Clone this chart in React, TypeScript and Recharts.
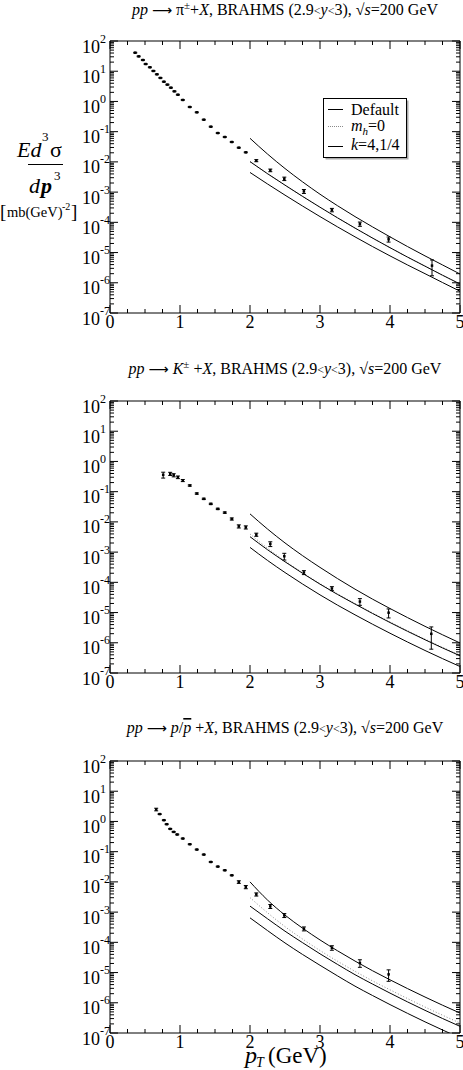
import React from "react";
import {
  ComposedChart,
  Scatter,
  Line,
  XAxis,
  YAxis,
  ErrorBar,
  ReferenceArea,
} from "recharts";

// ---- data (pT in GeV, E d3sigma/dp3 in mb GeV^-2) ----
const PI_PT = [0.36, 0.41, 0.47, 0.51, 0.57, 0.62, 0.67, 0.72, 0.77, 0.82, 0.87, 0.92, 0.97, 1.04, 1.14, 1.24, 1.34, 1.44, 1.54, 1.64, 1.74, 1.84, 1.94, 2.09, 2.29, 2.49, 2.77, 3.17, 3.57, 3.98, 4.6];
const PI_VAL = [41, 31, 23.5, 17.3, 13.5, 10.2, 7.9, 6.0, 4.5, 3.6, 2.85, 2.16, 1.67, 1.12, 0.655, 0.437, 0.249, 0.146, 0.09, 0.0666, 0.0455, 0.0295, 0.0207, 0.011, 5.26e-3, 2.77e-3, 1.06e-3, 2.56e-4, 8.8e-5, 2.74e-5, 3.7e-6];
// relative errors
const PI_ERR = [0.03, 0.03, 0.03, 0.03, 0.03, 0.03, 0.03, 0.03, 0.03, 0.03, 0.03, 0.03, 0.03, 0.03, 0.03, 0.03, 0.03, 0.03, 0.03, 0.03, 0.03, 0.03, 0.03, 0.08, 0.1, 0.13, 0.15, 0.13, 0.16, 0.19, 0.54];

const K_PT = [0.76, 0.86, 0.91, 0.97, 1.04, 1.14, 1.24, 1.34, 1.44, 1.54, 1.64, 1.74, 1.84, 1.94, 2.09, 2.29, 2.49, 2.77, 3.17, 3.57, 3.98, 4.59];
const K_VAL = [0.361, 0.39, 0.351, 0.3, 0.234, 0.16, 0.0867, 0.0578, 0.0394, 0.0269, 0.0203, 0.0125, 7.13e-3, 6.6e-3, 3.78e-3, 1.86e-3, 7.3e-4, 2.12e-4, 6.25e-5, 2.31e-5, 9.9e-6, 1.98e-6];
const K_ERR = [0.22, 0.12, 0.12, 0.1, 0.08, 0.05, 0.05, 0.05, 0.05, 0.05, 0.05, 0.08, 0.12, 0.12, 0.12, 0.18, 0.25, 0.15, 0.15, 0.25, 0.33, 0.69];

const P_PT = [0.66, 0.71, 0.77, 0.81, 0.86, 0.91, 0.96, 1.04, 1.14, 1.24, 1.34, 1.44, 1.54, 1.64, 1.74, 1.84, 1.94, 2.09, 2.29, 2.49, 2.77, 3.17, 3.57, 3.98];
const P_VAL = [2.49, 1.75, 1.1, 0.81, 0.567, 0.451, 0.37, 0.272, 0.176, 0.1175, 0.0802, 0.0456, 0.0321, 0.0242, 0.0165, 9.9e-3, 6.75e-3, 3.86e-3, 1.55e-3, 7.78e-4, 2.81e-4, 6.59e-5, 2.07e-5, 8.7e-6];
const P_ERR = [0.1, 0.03, 0.03, 0.03, 0.03, 0.03, 0.03, 0.03, 0.03, 0.03, 0.03, 0.03, 0.03, 0.03, 0.03, 0.1, 0.12, 0.12, 0.15, 0.15, 0.15, 0.17, 0.28, 0.41];

// theory curves: k=1/4 (upper), default, m_h=0 (dotted), k=4 (lower)
const CURVE_PT = [2, 2.25, 2.5, 2.75, 3, 3.25, 3.5, 3.75, 4, 4.25, 4.5, 4.75, 5];

const PI_KQ = [0.0603, 0.0182, 6.03e-3, 2.19e-3, 8.51e-4, 3.55e-4, 1.55e-4, 7.08e-5, 3.31e-5, 1.58e-5, 7.76e-6, 3.89e-6, 1.95e-6];
const PI_DEF = [1.02e-2, 4.07e-3, 1.7e-3, 7.24e-4, 3.16e-4, 1.41e-4, 6.46e-5, 3.02e-5, 1.45e-5, 7.08e-6, 3.55e-6, 1.78e-6, 9.12e-7];
const PI_MH0 = [1.02e-2, 4.07e-3, 1.7e-3, 7.24e-4, 3.16e-4, 1.41e-4, 6.46e-5, 3.02e-5, 1.45e-5, 7.08e-6, 3.55e-6, 1.78e-6, 9.12e-7];
const PI_K4 = [4.47e-3, 1.86e-3, 7.94e-4, 3.47e-4, 1.55e-4, 7.08e-5, 3.31e-5, 1.58e-5, 7.76e-6, 3.89e-6, 2.0e-6, 1.02e-6, 5.25e-7];

const K_KQ = [1.84e-2, 5.81e-3, 2.01e-3, 7.66e-4, 3.12e-4, 1.33e-4, 5.94e-5, 2.78e-5, 1.36e-5, 6.82e-6, 3.5e-6, 1.84e-6, 9.86e-7];
const K_DEF = [3.24e-3, 1.2e-3, 4.79e-4, 2.0e-4, 8.71e-5, 3.98e-5, 1.91e-5, 9.33e-6, 4.68e-6, 2.4e-6, 1.26e-6, 6.76e-7, 3.72e-7];
const K_MH0 = [3.98e-3, 1.35e-3, 5.13e-4, 2.09e-4, 9.12e-5, 4.17e-5, 2.0e-5, 9.77e-6, 4.9e-6, 2.51e-6, 1.32e-6, 7.08e-7, 3.89e-7];
const K_K4 = [1.43e-3, 5.31e-4, 2.11e-4, 8.81e-5, 3.85e-5, 1.76e-5, 8.41e-6, 4.12e-6, 2.07e-6, 1.06e-6, 5.56e-7, 2.99e-7, 1.64e-7];

const P_KQ = [1.0e-2, 2.51e-3, 7.94e-4, 2.95e-4, 1.2e-4, 5.25e-5, 2.4e-5, 1.15e-5, 5.75e-6, 2.95e-6, 1.55e-6, 8.32e-7, 4.57e-7];
const P_DEF = [1.58e-3, 6.03e-4, 2.34e-4, 9.77e-5, 4.17e-5, 1.86e-5, 8.51e-6, 4.17e-6, 2.09e-6, 1.07e-6, 5.62e-7, 3.02e-7, 1.66e-7];
const P_MH0 = [3.02e-3, 9.55e-4, 3.31e-4, 1.29e-4, 5.37e-5, 2.37e-5, 1.1e-5, 5.31e-6, 2.69e-6, 1.38e-6, 7.24e-7, 3.89e-7, 2.14e-7];
const P_K4 = [6.46e-4, 2.45e-4, 9.55e-5, 3.98e-5, 1.74e-5, 7.76e-6, 3.55e-6, 1.74e-6, 8.71e-7, 4.47e-7, 2.34e-7, 1.26e-7, 6.92e-8];

const X_TICKS = [0, 0.25, 0.5, 0.75, 1, 1.25, 1.5, 1.75, 2, 2.25, 2.5, 2.75, 3, 3.25, 3.5, 3.75, 4, 4.25, 4.5, 4.75, 5];
const Y_MAJOR = [1e-7, 1e-6, 1e-5, 1e-4, 1e-3, 1e-2, 1e-1, 1, 10, 100];
const Y_EXP = [-7, -6, -5, -4, -3, -2, -1, 0, 1, 2];
const Y_MINOR = [2, 3, 4, 5, 6, 7, 8, 9];
const Y_TICKS = Y_MAJOR.flatMap((d, i) =>
  i === Y_MAJOR.length - 1 ? [d] : [d, ...Y_MINOR.map((m) => d * m)]
);

// ---- layout ----
const W = 463;
const PLOT_W = 350;
const PLOT_H = 272;
const MARGIN = { top: 10, right: 3, bottom: 0, left: 50 };
const Y_AXIS_W = 60;
const X_AXIS_H = 30;
const TM = 6;
const CHART_H = MARGIN.top + PLOT_H + X_AXIS_H;
const SERIF = '"Liberation Serif", "DejaVu Serif", serif';

const toPoints = (pt: number[], val: number[], err: number[]) =>
  pt.map((x, i) => ({ x, y: val[i], err: [val[i] * err[i], val[i] * err[i]] }));
const toCurve = (vals: number[]) => CURVE_PT.map((x, i) => ({ x, y: vals[i] }));

function XTick(props: any) {
  const { x, y, payload } = props;
  const v = payload.value;
  const major = Number.isInteger(v);
  const ay = y - TM;
  const len = major ? 8 : 4;
  return (
    <g>
      <line x1={x} x2={x} y1={ay} y2={ay - len} stroke="#000" />
      <line x1={x} x2={x} y1={ay - PLOT_H} y2={ay - PLOT_H + len} stroke="#000" />
      {major && (
        <text x={x} y={ay + 15} textAnchor="middle" fontFamily={SERIF} fontSize={18} fill="#000">
          {v}
        </text>
      )}
    </g>
  );
}

function YTick(props: any) {
  const { x, y, payload } = props;
  const v = payload.value;
  const idx = Y_MAJOR.indexOf(v);
  const major = idx >= 0;
  const ax = x + TM;
  const len = major ? 8 : 4;
  return (
    <g>
      <line x1={ax} x2={ax + len} y1={y} y2={y} stroke="#000" />
      <line x1={ax + PLOT_W} x2={ax + PLOT_W - len} y1={y} y2={y} stroke="#000" />
      {major && (
        <g fontFamily={SERIF} fill="#000">
          <text x={ax - 10} y={y + 11.5} textAnchor="end" fontSize={18}>
            10
          </text>
          <text x={ax - 10} y={y + 1.5} textAnchor="start" fontSize={12}>
            {Y_EXP[idx]}
          </text>
        </g>
      )}
    </g>
  );
}

const Marker = (props: any) => (
  <rect x={props.cx - 1.25} y={props.cy - 1.25} width={2.5} height={2.5} fill="#000" />
);

interface PanelProps {
  top: number;
  points: { x: number; y: number; err: number[] }[];
  kq: number[];
  def: number[];
  mh0: number[];
  k4: number[];
}

function Panel({ top, points, kq, def, mh0, k4 }: PanelProps) {
  return (
    <div style={{ position: "absolute", left: 0, top }}>
      <ComposedChart width={W} height={CHART_H} margin={MARGIN}>
        <XAxis
          dataKey="x"
          type="number"
          domain={[0, 5]}
          ticks={X_TICKS}
          interval={0}
          allowDataOverflow
          axisLine={false}
          tickLine={false}
          tickSize={0}
          tickMargin={TM}
          height={X_AXIS_H}
          tick={(p: any) => <XTick {...p} />}
        />
        <YAxis
          dataKey="y"
          type="number"
          scale="log"
          domain={[1e-7, 1e2]}
          ticks={Y_TICKS}
          interval={0}
          allowDataOverflow
          axisLine={false}
          tickLine={false}
          tickSize={0}
          tickMargin={TM}
          width={Y_AXIS_W}
          tick={(p: any) => <YTick {...p} />}
        />
        <ReferenceArea
          x1={0}
          x2={5}
          y1={1e-7}
          y2={1e2}
          fill="none"
          fillOpacity={0}
          stroke="#000"
          strokeWidth={1}
          ifOverflow="visible"
        />
        <Line data={toCurve(mh0)} dataKey="y" type="monotone" stroke="#8a8a8a" strokeWidth={1} strokeDasharray="1 2" dot={false} activeDot={false} isAnimationActive={false} />
        <Line data={toCurve(kq)} dataKey="y" type="monotone" stroke="#000" strokeWidth={1} dot={false} activeDot={false} isAnimationActive={false} />
        <Line data={toCurve(def)} dataKey="y" type="monotone" stroke="#000" strokeWidth={1} dot={false} activeDot={false} isAnimationActive={false} />
        <Line data={toCurve(k4)} dataKey="y" type="monotone" stroke="#000" strokeWidth={1} dot={false} activeDot={false} isAnimationActive={false} />
        <Scatter data={points} dataKey="y" shape={Marker} isAnimationActive={false}>
          <ErrorBar dataKey="err" direction="y" width={2} stroke="#000" strokeWidth={1} />
        </Scatter>
      </ComposedChart>
    </div>
  );
}

function Title({ y, children }: { y: number; children: React.ReactNode }) {
  return (
    <text x={285} y={y} textAnchor="middle" fontFamily={SERIF} fontSize={16} fill="#000">
      {children}
    </text>
  );
}

const Arrow = () => (
  <tspan fontFamily='"DejaVu Sans", sans-serif' fontSize={14}>⟶</tspan>
);

export default function App() {
  return (
    <div style={{ position: "absolute", left: 0, top: 0, width: W, height: 1070, background: "#fff", overflow: "hidden" }}>
      <Panel top={31} points={toPoints(PI_PT, PI_VAL, PI_ERR)} kq={PI_KQ} def={PI_DEF} mh0={PI_MH0} k4={PI_K4} />
      <Panel top={391} points={toPoints(K_PT, K_VAL, K_ERR)} kq={K_KQ} def={K_DEF} mh0={K_MH0} k4={K_K4} />
      <Panel top={751} points={toPoints(P_PT, P_VAL, P_ERR)} kq={P_KQ} def={P_DEF} mh0={P_MH0} k4={P_K4} />

      <svg width={W} height={1070} style={{ position: "absolute", left: 0, top: 0, pointerEvents: "none" }}>
        {/* titles */}
        <Title y={15}>
          <tspan fontStyle="italic">pp</tspan> <Arrow /> π<tspan dy={-6} fontSize={11}>±</tspan>
          <tspan dy={6}>+</tspan><tspan fontStyle="italic">X</tspan>, BRAHMS (2.9<tspan fontSize={12}>&lt;</tspan>
          <tspan fontStyle="italic">y</tspan><tspan fontSize={12}>&lt;</tspan>3), √<tspan fontStyle="italic">s</tspan>=200 GeV
        </Title>
        <Title y={374}>
          <tspan fontStyle="italic">pp</tspan> <Arrow /> <tspan fontStyle="italic">K</tspan><tspan dy={-6} fontSize={11}>±</tspan>
          <tspan dy={6}> +</tspan><tspan fontStyle="italic">X</tspan>, BRAHMS (2.9<tspan fontSize={12}>&lt;</tspan>
          <tspan fontStyle="italic">y</tspan><tspan fontSize={12}>&lt;</tspan>3), √<tspan fontStyle="italic">s</tspan>=200 GeV
        </Title>
        <Title y={733}>
          <tspan fontStyle="italic">pp</tspan> <Arrow /> <tspan fontStyle="italic">p</tspan>/<tspan fontStyle="italic" textDecoration="overline">p</tspan>
          <tspan> +</tspan><tspan fontStyle="italic">X</tspan>, BRAHMS (2.9<tspan fontSize={12}>&lt;</tspan>
          <tspan fontStyle="italic">y</tspan><tspan fontSize={12}>&lt;</tspan>3), √<tspan fontStyle="italic">s</tspan>=200 GeV
        </Title>

        {/* y-axis label */}
        <g fontFamily={SERIF} fill="#000">
          <text x={17} y={157} fontSize={22}>
            <tspan fontStyle="italic">Ed</tspan>
          </text>
          <text x={42} y={141} fontSize={13}>3</text>
          <text x={50} y={157} fontSize={22}>σ</text>
          <line x1={28} x2={63} y1={164.5} y2={164.5} stroke="#000" strokeWidth={1} />
          <text x={29} y={193} fontSize={22} fontStyle="italic">d</text>
          <text x={41} y={193} fontSize={22} fontStyle="italic" fontWeight="bold">p</text>
          <text x={54} y={180} fontSize={13}>3</text>
          <text x={0} y={218} fontSize={19}>[</text>
          <text x={7} y={217} fontSize={14.5}>mb(GeV)</text>
          <text x={62} y={210} fontSize={10}>-2</text>
          <text x={71} y={218} fontSize={19}>]</text>
        </g>

        {/* legend */}
        <g fontFamily={SERIF} fill="#000">
          <rect x={325.5} y={100.5} width={83} height={59} fill="#aaa" />
          <rect x={323.5} y={98.5} width={83} height={59} fill="#fff" stroke="#000" strokeWidth={1} />
          <line x1={328} x2={343} y1={109.5} y2={109.5} stroke="#000" />
          <text x={351} y={115} fontSize={16}>Default</text>
          <line x1={328} x2={343} y1={126.5} y2={126.5} stroke="#8a8a8a" strokeDasharray="1 1" />
          <text x={351} y={131} fontSize={16}>
            <tspan fontStyle="italic">m</tspan>
            <tspan fontStyle="italic" fontSize={11} dy={4}>h</tspan>
            <tspan dy={-4}>=0</tspan>
          </text>
          <line x1={328} x2={343} y1={146.5} y2={146.5} stroke="#000" />
          <text x={351} y={150} fontSize={16}>
            <tspan fontStyle="italic">k</tspan>=4,1/4
          </text>
        </g>

        {/* x-axis label */}
        <g fontFamily={SERIF} fill="#000">
          <text x={245} y={1063} fontSize={24} fontStyle="italic">p</text>
          <text x={256} y={1067} fontSize={14} fontStyle="italic">T</text>
          <text x={268} y={1063} fontSize={23}>(GeV)</text>
        </g>
      </svg>
    </div>
  );
}
